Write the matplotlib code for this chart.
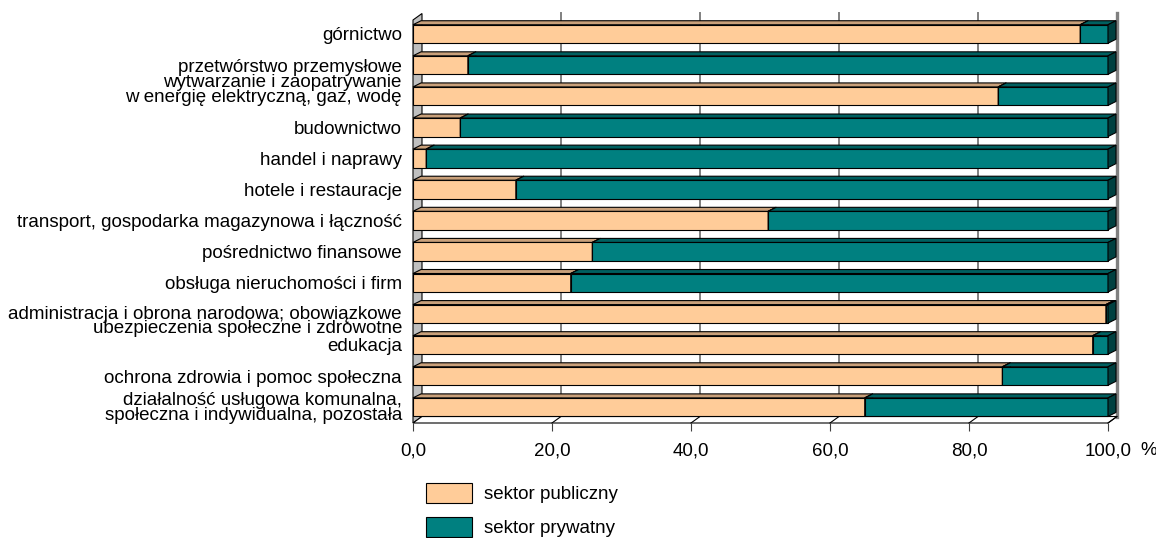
import numpy as np
import matplotlib
matplotlib.use('Agg')
import matplotlib.pyplot as plt
from matplotlib.patches import Polygon, Patch

plt.rcParams['font.family'] = ['Liberation Sans', 'DejaVu Sans']

# ---- Data ----
categories = [
    'górnictwo',
    'przetwórstwo przemysłowe',
    'wytwarzanie i zaopatrywanie\nw energię elektryczną, gaz, wodę',
    'budownictwo',
    'handel i naprawy',
    'hotele i restauracje',
    'transport, gospodarka magazynowa i łączność',
    'pośrednictwo finansowe',
    'obsługa nieruchomości i firm',
    'administracja i obrona narodowa; obowiązkowe\nubezpieczenia społeczne i zdrowotne',
    'edukacja',
    'ochrona zdrowia i pomoc społeczna',
    'działalność usługowa komunalna,\nspołeczna i indywidualna, pozostała',
]
public = [96.0, 7.9, 84.2, 6.8, 1.9, 14.8, 51.1, 25.8, 22.7, 99.7, 97.8, 84.8, 65.0]
private = [100 - v for v in public]
series_names = ['sektor publiczny', 'sektor prywatny']
x_ticks = [0, 20, 40, 60, 80, 100]
x_ticklabels = ['0,0', '20,0', '40,0', '60,0', '80,0', '100,0']

# ---- Styles ----
front_cols = ['#ffcc99', '#008080']
top_cols = ['#c9a07a', '#006060']
side_cols = ['#a0805f', '#004040']
FS = 13.5

W, H = 1156, 538
fig = plt.figure(figsize=(W / 100, H / 100), dpi=100)
ax = fig.add_axes([413 / W, (H - 423) / H, 695 / W, 403 / H])
y_top, y_bot = -0.45, 12.51
ax.set_xlim(0, 100)
ax.set_ylim(y_bot, y_top)
for s in ax.spines.values():
    s.set_visible(False)

px_x = 695 / 100.0              # pixels per x unit
px_y = 403 / (y_bot - y_top)    # pixels per category unit
# wall depth / bar depth offsets (in data units)
wdx, wdy = 9 / px_x, -6.5 / px_y
bdx, bdy = 8 / px_x, -4 / px_y

# left wall
ax.add_patch(Polygon([(0, y_bot), (0, y_top), (wdx, y_top + wdy), (wdx, y_bot + wdy)],
                     closed=True, fc='#c0c0c0', ec='black', lw=0.8, clip_on=False, zorder=1))
# back wall
ax.add_patch(Polygon([(wdx, y_bot + wdy), (wdx, y_top + wdy), (100 + wdx, y_top + wdy),
                      (100 + wdx, y_bot + wdy)],
                     closed=True, fc='white', ec='none', clip_on=False, zorder=0.5))
for t in x_ticks[1:-1]:
    ax.plot([t + wdx, t + wdx], [y_top + wdy, y_bot + wdy], color='#808080', lw=1.4,
            clip_on=False, zorder=1)
ax.plot([100 + wdx, 100 + wdx], [y_top + wdy, y_bot + wdy], color='#808080', lw=2.4,
        clip_on=False, zorder=1)
# floor
ax.add_patch(Polygon([(0, y_bot), (100, y_bot), (100 + wdx, y_bot + wdy), (wdx, y_bot + wdy)],
                     closed=True, fc='white', ec='black', lw=0.8, clip_on=False, zorder=1))
for t in x_ticks[1:]:
    ax.plot([t, t + wdx], [y_bot, y_bot + wdy], color='black', lw=0.8, clip_on=False, zorder=1)

# ---- Bars ----
h = 0.595
ys = np.arange(len(categories))
for i, y in enumerate(ys):
    left = 0
    for k, val in enumerate([public[i], private[i]]):
        x0, x1 = left, left + val
        y0, y1 = y - h / 2, y + h / 2
        ax.add_patch(Polygon([(x0, y0), (x1, y0), (x1, y1), (x0, y1)], closed=True,
                             fc=front_cols[k], ec='black', lw=0.8, clip_on=False, zorder=3))
        ax.add_patch(Polygon([(x0, y0), (x1, y0), (x1 + bdx, y0 + bdy), (x0 + bdx, y0 + bdy)],
                             closed=True, fc=top_cols[k], ec='black', lw=0.8, clip_on=False, zorder=3))
        ax.add_patch(Polygon([(x1, y0), (x1 + bdx, y0 + bdy), (x1 + bdx, y1 + bdy), (x1, y1)],
                             closed=True, fc=side_cols[k], ec='black', lw=0.8, clip_on=False, zorder=3))
        left = x1

# ---- Axes text ----
# two-line labels are nudged (as Excel does) so they don't collide with neighbours
label_nudge = {2: -0.22, 9: 0.22}
label_pos = [y + label_nudge.get(i, 0) for i, y in enumerate(ys)]
ax.set_yticks(label_pos)
ax.set_yticklabels(categories, fontsize=FS, linespacing=0.8)
ax.tick_params(axis='y', length=0, pad=8)
ax.set_xticks(x_ticks)
ax.set_xticklabels(x_ticklabels, fontsize=FS)
ax.tick_params(axis='x', length=5.8, width=0.8, color='#404040', pad=8)
ax.annotate('%', xy=(100, y_bot), xytext=(23, -19.5), textcoords='offset points',
            fontsize=FS, ha='left', va='center', annotation_clip=False)

# ---- Legend ----
handles = [Patch(fc=front_cols[0], ec='black', lw=0.8), Patch(fc=front_cols[1], ec='black', lw=0.8)]
fig.legend(handles, series_names, loc='upper left', bbox_to_anchor=(426 / W, 1 - 483 / H),
           frameon=False, borderpad=0, borderaxespad=0, fontsize=FS,
           handlelength=2.45, handleheight=1.23, labelspacing=0.75, handletextpad=0.65)

fig.savefig('out.png', dpi=100)
